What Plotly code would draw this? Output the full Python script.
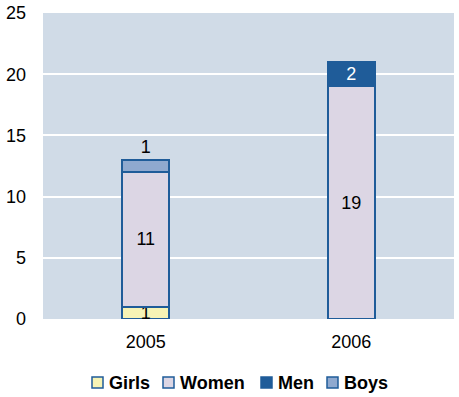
import plotly.graph_objects as go

years = ["2005", "2006"]
series_names = ["Girls", "Women", "Men", "Boys"]
girls = [1, 0]
women = [11, 19]
men = [0, 2]
boys = [1, 0]

girls_text = ["1", ""]
women_text = ["11", "19"]
men_text = ["", "2"]
boys_text = ["1", ""]

colors = {"Girls": "#F6F3B5", "Women": "#DCD6E4", "Men": "#1F5C99", "Boys": "#8FA9CF"}
border = "#1F5C99"
fs = 18
W, H = 459, 397
L, R, T, B = 43, 5, 13, 78
pw, ph = W - L - R, H - T - B

common = dict(textangle=0, constraintext="none", cliponaxis=False, showlegend=False)
fig = go.Figure()
fig.add_trace(go.Bar(name="Girls", x=years, y=girls, text=girls_text, textposition="inside",
                     insidetextanchor="middle",
                     marker=dict(color=colors["Girls"], line=dict(color=border, width=2)),
                     textfont=dict(color="black", size=fs), **common))
fig.add_trace(go.Bar(name="Women", x=years, y=women, text=women_text, textposition="inside",
                     insidetextanchor="middle",
                     marker=dict(color=colors["Women"], line=dict(color=border, width=2)),
                     textfont=dict(color="black", size=fs), **common))
fig.add_trace(go.Bar(name="Men", x=years, y=men, text=men_text, textposition="inside",
                     insidetextanchor="middle",
                     marker=dict(color=colors["Men"], line=dict(color=border, width=2)),
                     textfont=dict(color="white", size=fs), **common))
fig.add_trace(go.Bar(name="Boys", x=years, y=boys, text=boys_text, textposition="outside",
                     marker=dict(color=colors["Boys"], line=dict(color=border, width=2)),
                     textfont=dict(color="black", size=fs), **common))

# custom compact legend (pixel layout converted to paper coords)
leg_marker_px = [92, 163, 261, 327]
leg_cy = 382.5
msz = 11
def px2x(px):
    return (px - L) / pw
def py2y(py):
    return (H - B - py) / ph
shapes = []
annotations = []
for name, mx in zip(series_names, leg_marker_px):
    shapes.append(dict(type="rect", xref="paper", yref="paper",
                       x0=px2x(mx), x1=px2x(mx + msz),
                       y0=py2y(leg_cy + msz / 2), y1=py2y(leg_cy - msz / 2),
                       fillcolor=colors[name], line=dict(color=border, width=1.5)))
    annotations.append(dict(text="<b>" + name + "</b>", xref="paper", yref="paper",
                            x=px2x(mx + msz + 4), y=py2y(leg_cy), xanchor="left",
                            yanchor="middle", showarrow=False,
                            font=dict(size=fs, color="black")))

fig.update_layout(
    barmode="stack",
    bargap=0.77,
    width=W, height=H,
    margin=dict(l=L, r=R, t=T, b=B, autoexpand=False),
    paper_bgcolor="white",
    plot_bgcolor="#D0DBE7",
    font=dict(family="Liberation Sans, Arial, sans-serif", size=fs, color="black"),
    showlegend=False,
    shapes=shapes,
    annotations=annotations,
)
fig.update_yaxes(range=[0, 25], tickvals=[0, 5, 10, 15, 20, 25], showgrid=True,
                 gridcolor="white", gridwidth=2, zeroline=False, showline=False,
                 ticks="", ticklabelstandoff=16, automargin=False)
fig.update_xaxes(showgrid=False, showline=False, ticks="", ticklabelstandoff=10,
                 automargin=False)

fig.write_html("out.html", config={"displayModeBar": False},
               post_script="document.body.style.margin='0px';")
